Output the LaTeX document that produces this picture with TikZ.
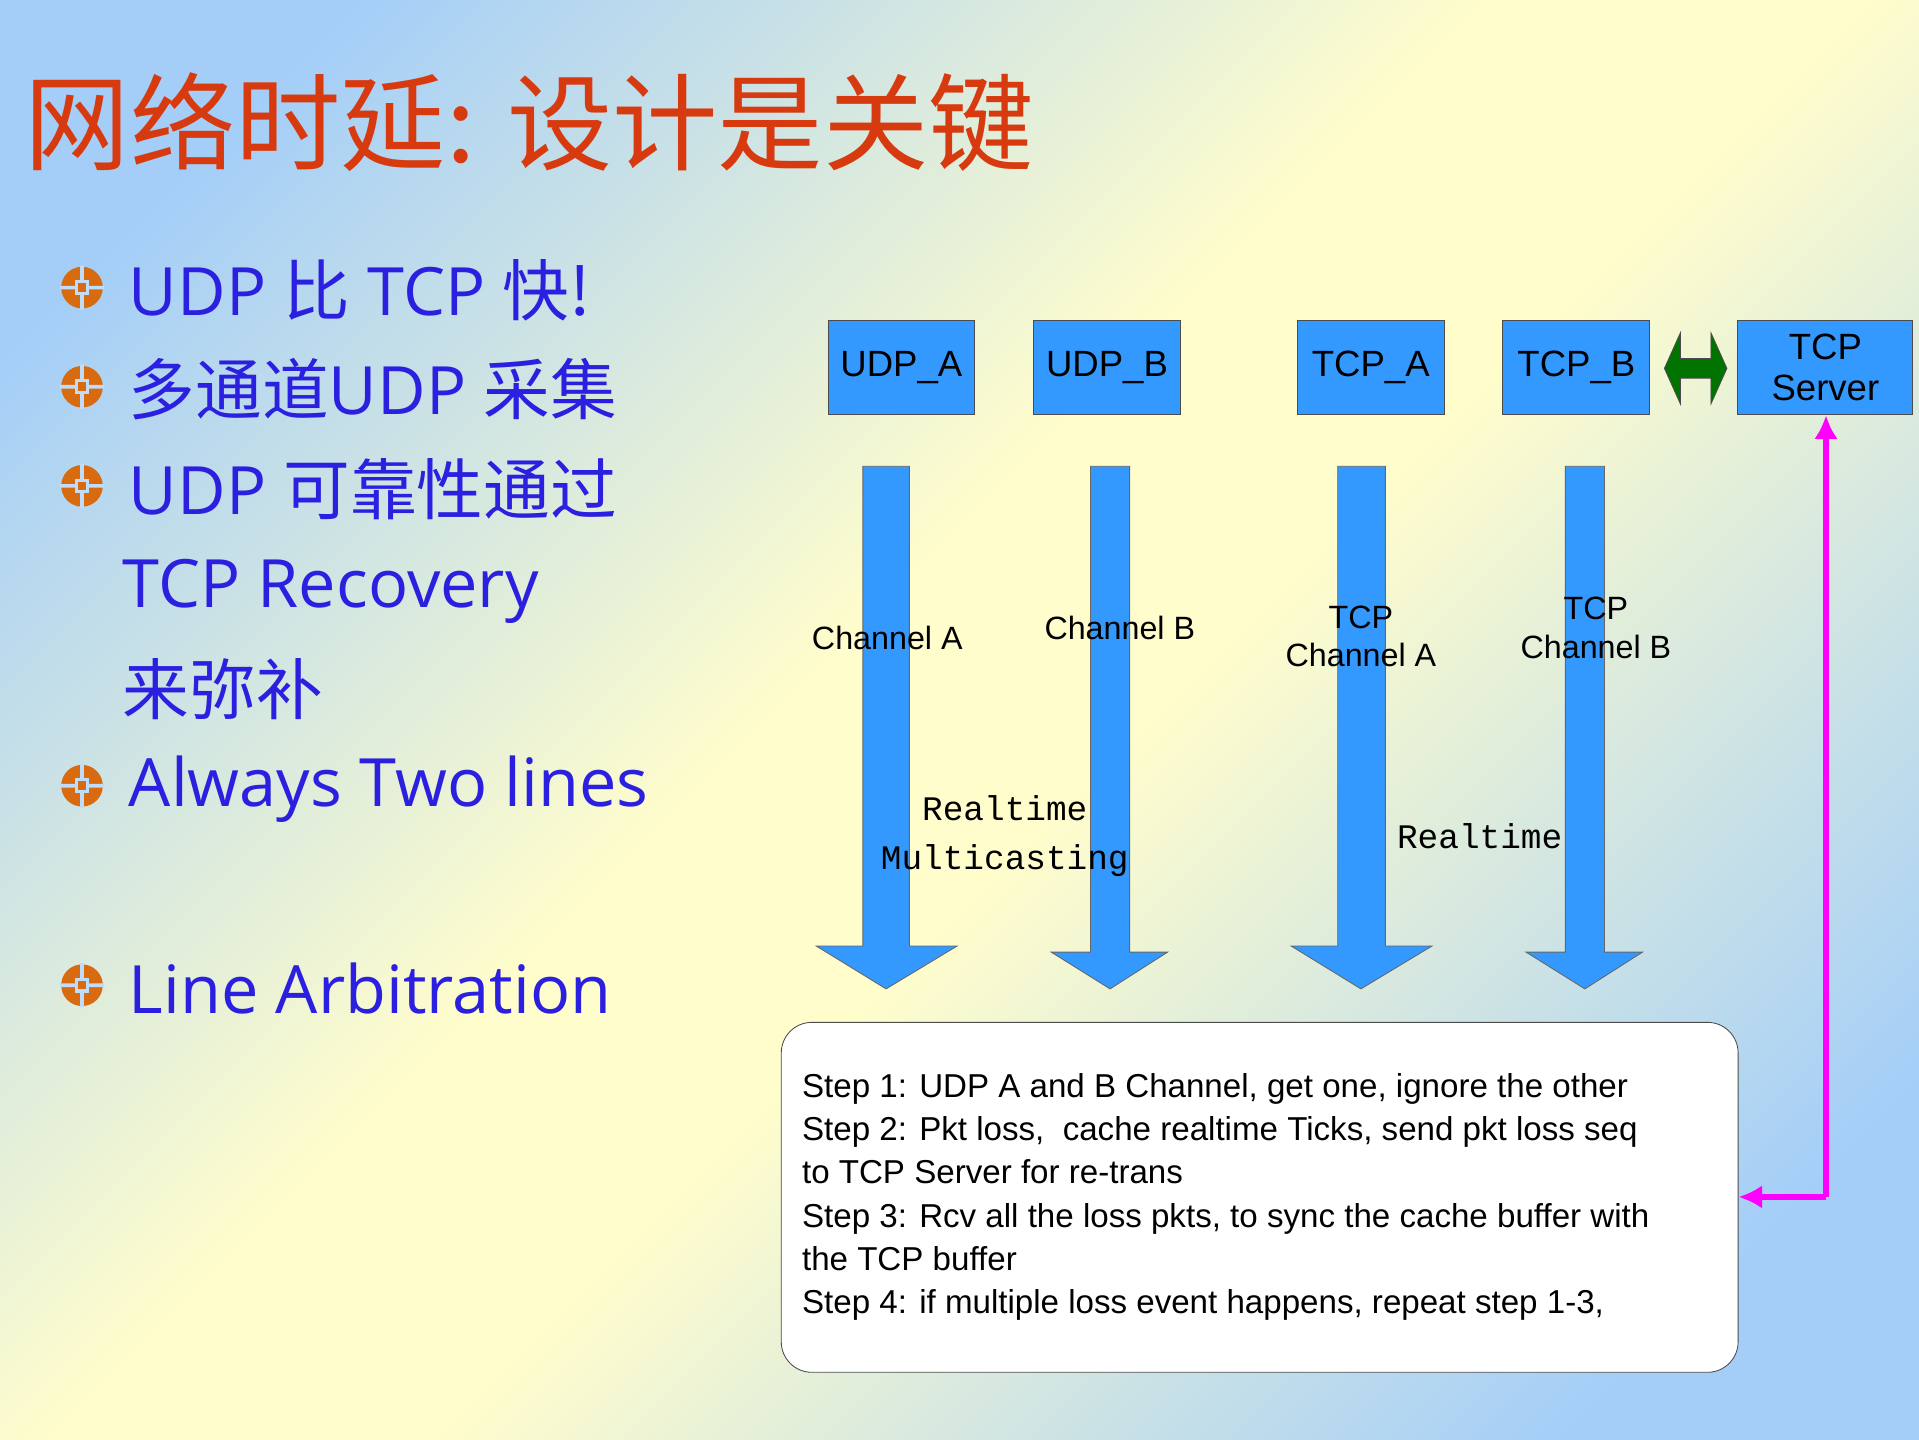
\documentclass[tikz,border=0pt]{standalone}
\usepackage{fontspec}
\usetikzlibrary{arrows.meta}
\setmainfont{Liberation Sans}
\newfontfamily\cjk{Noto Sans CJK SC}
\newfontfamily\bul{Open Sans}
\newfontfamily\mono{Liberation Mono}
\definecolor{bgblue}{HTML}{A4CEF8}
\definecolor{bgyel}{HTML}{FFFDCC}
\definecolor{boxblue}{HTML}{3399FF}
\definecolor{ttl}{HTML}{D83A10}
\definecolor{btxt}{HTML}{2B1FE0}
\definecolor{bulor}{HTML}{D86A10}
\definecolor{mag}{HTML}{FF00FF}
\pgfdeclarehorizontalshading{bgsh}{100bp}{color(0bp)=(bgblue);color(22bp)=(bgblue);color(46bp)=(bgyel);color(54bp)=(bgyel);color(78bp)=(bgblue);color(100bp)=(bgblue)}
\tikzset{
 tbox/.style={draw=black!70,fill=boxblue,minimum width=2.4cm,minimum height=1.54cm,inner sep=0pt,font=\fontsize{17}{19}\selectfont,align=center},
 darrow/.style={fill=boxblue,draw=black!60,line width=0.4pt},
 lbl/.style={font=\fontsize{15}{18}\selectfont,align=center},
 mlbl/.style={font=\mono\fontsize{16}{23}\selectfont,align=center},
 btext/.style={anchor=west,text=btxt,font=\bul\fontsize{31}{36}\selectfont,inner sep=0pt},
 mline/.style={mag,line width=2.8pt,-{Latex[length=11pt,width=11pt]}},
}
\newcommand{\bulicon}[1]{%
 \begin{scope}[shift={#1}]
  \fill[bulor] (0,0) circle (17);
  \fill[bgblue!70] (-18,-1.5) rectangle (18,1.5) (-1.5,-18) rectangle (1.5,18);
  \fill[bgblue!70] (-6,-6) rectangle (6,6);
  \fill[bulor] (-3.5,-3.5) rectangle (3.5,3.5);
 \end{scope}}
\begin{document}
\begin{tikzpicture}[x=0.02cm,y=-0.02cm]
\useasboundingbox (0,0) rectangle (1568,1176);
\shade[shading=bgsh,shading angle=135] (0,0) rectangle (1568,1176);
\node[anchor=west,text=ttl,font=\cjk\fontsize{49}{50}\selectfont,inner sep=0pt] (title) at (20,100) {网络时延: 设计是关键};
% bullets
\bulicon{(67,235)}\bulicon{(67,316)}\bulicon{(67,397)}\bulicon{(67,642)}\bulicon{(67,805)}
\node[btext] (b1) at (105,237) {UDP {\cjk 比} TCP {\cjk 快!}};
\node[btext] (b2) at (105,318) {{\cjk 多通道}UDP {\cjk 采集}};
\node[btext] (b3) at (105,400) {UDP {\cjk 可靠性通过}};
\node[btext] (b4) at (100,483) {TCP Recovery};
\node[btext] (b5) at (100,563) {\cjk 来弥补};
\node[btext] (b6) at (105,645) {Always Two lines};
\node[btext] (b7) at (105,808) {Line Arbitration};
% boxes
\node[tbox] (ua) at (736.5,300.5) {UDP\_A};
\node[tbox] (ub) at (904.5,300.5) {UDP\_B};
\node[tbox] (ta) at (1120,300.5) {TCP\_A};
\node[tbox] (tb) at (1288,300.5) {TCP\_B};
\node[tbox,minimum width=2.86cm] (ts) at (1491.5,300.5) {TCP\\Server};
% green arrow
\fill[draw=black!70,fill=green!45!black] (1360,301) -- (1373,272) -- (1373,293) -- (1398,293) -- (1398,272) -- (1411,301) -- (1398,330) -- (1398,309) -- (1373,309) -- (1373,330) -- cycle;
% down arrows
\draw[darrow] (705,381) -- (743,381) -- (743,773) -- (782,773) -- (724,808) -- (667,773) -- (705,773) -- cycle;
\draw[darrow] (891,381) -- (923,381) -- (923,778) -- (954,778) -- (907,808) -- (859,778) -- (891,778) -- cycle;
\draw[darrow] (1093,381) -- (1132,381) -- (1132,773) -- (1170,773) -- (1112,808) -- (1055,773) -- (1093,773) -- cycle;
\draw[darrow] (1279,381) -- (1311,381) -- (1311,778) -- (1342,778) -- (1295,808) -- (1247,778) -- (1279,778) -- cycle;
\node[lbl] (la) at (725,521) {Channel A};
\node[lbl] (lb) at (915,513) {Channel B};
\node[lbl] (lc) at (1112,520) {TCP\\Channel A};
\node[lbl] (ld) at (1304,513) {TCP\\Channel B};
\node[mlbl] (m1) at (821,683) {Realtime\\Multicasting};
\node[mlbl] (m2) at (1209,683) {Realtime};
% steps box
\node[draw=black!70,fill=white,rounded corners=0.5cm,minimum width=15.64cm,minimum height=5.72cm,anchor=north west] (sb) at (638,835) {};
\node[anchor=west,align=left,inner sep=0pt,font=\fontsize{15.4}{20.1}\selectfont] (st) at (655,978) {Step 1: UDP A and B Channel, get one, ignore the other\\Step 2: Pkt loss,\ \ cache realtime Ticks, send pkt loss seq\\to TCP Server for re-trans\\Step 3: Rcv all the loss pkts, to sync the cache buffer with\\the TCP buffer\\Step 4: if multiple loss event happens, repeat step 1-3,};
% magenta
\coordinate (mc) at (1492,978);
\draw[mline] (mc) -- (ts.south -| mc);
\draw[mline] (mc) -- (sb.east |- mc);
\end{tikzpicture}
\end{document}
